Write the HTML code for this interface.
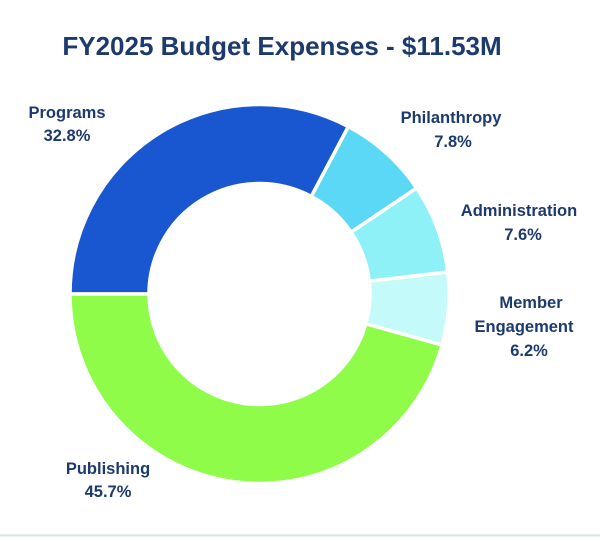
<!DOCTYPE html>
<html><head><meta charset="utf-8"><style>
body{margin:0;background:#fff;}
svg text{font-family:"Liberation Sans",sans-serif;font-weight:bold;fill:#1d3a6e;}
</style></head><body>
<svg id="s" width="600" height="537" viewBox="0 0 600 537" xmlns="http://www.w3.org/2000/svg">
<rect width="600" height="537" fill="#fff"/>
<line x1="0" y1="535.5" x2="600" y2="535.5" stroke="#dde3e3" stroke-width="2"/>
<text x="282" y="55" font-size="26" text-anchor="middle" fill="#1f3a78">FY2025 Budget Expenses - $11.53M</text>
<g id="d"></g>
<g font-size="16.5" text-anchor="middle">
<text x="67" y="118">Programs</text><text x="67" y="141">32.8%</text>
<text x="451" y="123">Philanthropy</text><text x="453" y="147">7.8%</text>
<text x="519" y="216">Administration</text><text x="523" y="240">7.6%</text>
<text x="531" y="308">Member</text><text x="524" y="332">Engagement</text><text x="529" y="356">6.2%</text>
<text x="108" y="474">Publishing</text><text x="108" y="497">45.7%</text>
</g>
</svg>
<script>
var cx=259.5,cy=294,R=189.5,r=110.5;
var segs=[[32.8,"#1857d0"],[7.8,"#5ad8f6"],[7.6,"#8ef1f7"],[6.2,"#c4fafa"],[45.7,"#8efc48"]];
var tot=100.1,a=Math.PI,h='';
function p(rad,t){return (cx+rad*Math.cos(t)).toFixed(2)+','+(cy+rad*Math.sin(t)).toFixed(2);}
segs.forEach(function(s){var b=a+s[0]/tot*2*Math.PI;var l=(b-a)>Math.PI?1:0;
h+='<path d="M'+p(R,a)+' A'+R+','+R+' 0 '+l+' 1 '+p(R,b)+' L'+p(r,b)+' A'+r+','+r+' 0 '+l+' 0 '+p(r,a)+' Z" fill="'+s[1]+'" stroke="#fff" stroke-width="3.5"/>';a=b;});
document.getElementById('d').innerHTML=h;
</script>
</body></html>
